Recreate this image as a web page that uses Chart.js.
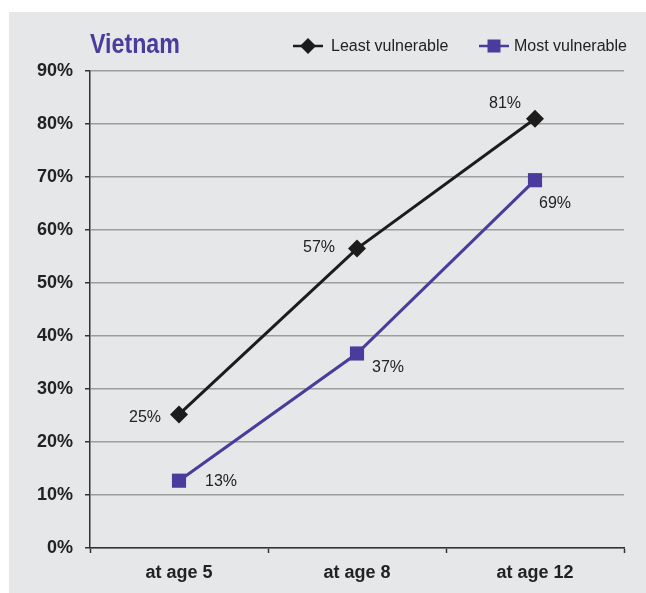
<!DOCTYPE html>
<html>
<head>
<meta charset="utf-8">
<script src="https://cdn.jsdelivr.net/npm/chart.js@4.4.1/dist/chart.umd.min.js"></script>
<style>
  html, body { margin: 0; padding: 0; background: #fff; }
  #wrap { width: 646px; height: 593px; }
</style>
</head>
<body>
<div id="wrap"><canvas id="chart" width="646" height="593"></canvas></div>
<script>
// data
const chartTitle = 'Vietnam';
const categories = ['at age 5', 'at age 8', 'at age 12'];
const leastVulnerable = [25.2, 56.5, 81.0];
const mostVulnerable = [12.7, 36.7, 69.4];
const seriesNames = ['Least vulnerable', 'Most vulnerable'];
const yTicks = [0, 10, 20, 30, 40, 50, 60, 70, 80, 90];

const BLACK = '#1c1c1c';
const PURPLE = '#4a3b9c';
const PANEL = '#e6e7e9';

// label offsets relative to the point: [dx, dy, align]
const labelPos = [
    [[-18, 3, 'right'], [-22, -1, 'right'], [-14, -15, 'right']],
    [[26, 1, 'left'], [15, 14, 'left'], [4, 23, 'left']]
];

const decor = {
    id: 'decor',
    beforeDraw(chart) {
        const c = chart.ctx;
        c.save();
        c.fillStyle = '#fff';
        c.fillRect(0, 0, chart.width, chart.height);
        c.fillStyle = PANEL;
        c.fillRect(9, 12, chart.width - 9, chart.height - 12);
        c.restore();
    },
    afterDraw(chart) {
        const c = chart.ctx;
        c.save();
        // title, squeezed a bit like the condensed face in the original
        c.save();
        c.translate(90, 53);
        c.scale(0.86, 1);
        c.fillStyle = PURPLE;
        c.font = "bold 27px 'Liberation Sans', Arial, sans-serif";
        c.textAlign = 'left';
        c.textBaseline = 'alphabetic';
        c.fillText(chartTitle, 0, 0);
        c.restore();

        // legend
        const items = [
            { x: 293, tx: 331, color: BLACK, shape: 'diamond', text: seriesNames[0] },
            { x: 479, tx: 514, color: PURPLE, shape: 'square', text: seriesNames[1] }
        ];
        items.forEach(it => {
            const y = 46;
            c.strokeStyle = it.color;
            c.lineWidth = 2.5;
            c.beginPath();
            c.moveTo(it.x, y);
            c.lineTo(it.x + 30, y);
            c.stroke();
            c.fillStyle = it.color;
            const cx = it.x + 15;
            c.beginPath();
            if (it.shape === 'diamond') {
                c.moveTo(cx, y - 8);
                c.lineTo(cx + 8, y);
                c.lineTo(cx, y + 8);
                c.lineTo(cx - 8, y);
                c.closePath();
            } else {
                c.rect(cx - 6.5, y - 6.5, 13, 13);
            }
            c.fill();
            c.fillStyle = '#222';
            c.font = "16px 'Liberation Sans', Arial, sans-serif";
            c.textAlign = 'left';
            c.textBaseline = 'middle';
            c.fillText(it.text, it.tx, y + 1);
        });

        // data labels
        c.font = "16px 'Liberation Sans', Arial, sans-serif";
        c.fillStyle = '#222';
        c.textBaseline = 'middle';
        chart.data.datasets.forEach((ds, di) => {
            const meta = chart.getDatasetMeta(di);
            meta.data.forEach((pt, i) => {
                const p = labelPos[di][i];
                c.textAlign = p[2];
                c.fillText(Math.round(ds.data[i]) + '%', pt.x + p[0], pt.y + p[1]);
            });
        });
        c.restore();
    }
};

new Chart(document.getElementById('chart'), {
    type: 'line',
    data: {
        labels: categories,
        datasets: [{
            label: seriesNames[0],
            data: leastVulnerable,
            borderColor: BLACK,
            backgroundColor: BLACK,
            borderWidth: 3,
            pointStyle: 'rectRot',
            pointRadius: 9,
            pointBorderWidth: 0,
            tension: 0
        },
        {
            label: seriesNames[1],
            data: mostVulnerable,
            borderColor: PURPLE,
            backgroundColor: PURPLE,
            borderWidth: 3,
            pointStyle: 'rect',
            pointRadius: 10,
            pointBorderWidth: 0,
            tension: 0
        }]
    },
    options: {
        responsive: false,
        animation: false,
        layout: { padding: { left: 0, right: 22, top: 71, bottom: 0 } },
        plugins: {
            legend: { display: false },
            title: { display: false },
            tooltip: { enabled: false }
        },
        scales: {
            x: {
                offset: true,
                grid: {
                    offset: true,
                    drawOnChartArea: false,
                    drawTicks: true,
                    tickLength: 5,
                    tickColor: '#333',
                    tickWidth: 1.5
                },
                border: { color: '#333', width: 1.5 },
                ticks: {
                    color: '#222',
                    padding: 9,
                    font: { family: "'Liberation Sans', Arial, sans-serif", size: 18, weight: 'bold' }
                },
                afterFit(scale) { scale.height = 45; }
            },
            y: {
                min: 0,
                max: 90,
                afterBuildTicks(scale) { scale.ticks = yTicks.map(v => ({ value: v })); },
                grid: {
                    color: '#9d9d9d',
                    lineWidth: 1.5,
                    drawTicks: true,
                    tickLength: 5,
                    tickColor: '#333',
                    tickWidth: 1.5
                },
                border: { color: '#333', width: 1.5 },
                ticks: {
                    color: '#222',
                    padding: 12,
                    callback: v => v + '%',
                    font: { family: "'Liberation Sans', Arial, sans-serif", size: 18, weight: 'bold' }
                },
                afterFit(scale) { scale.width = 90; }
            }
        }
    },
    plugins: [decor]
});
</script>
</body>
</html>
